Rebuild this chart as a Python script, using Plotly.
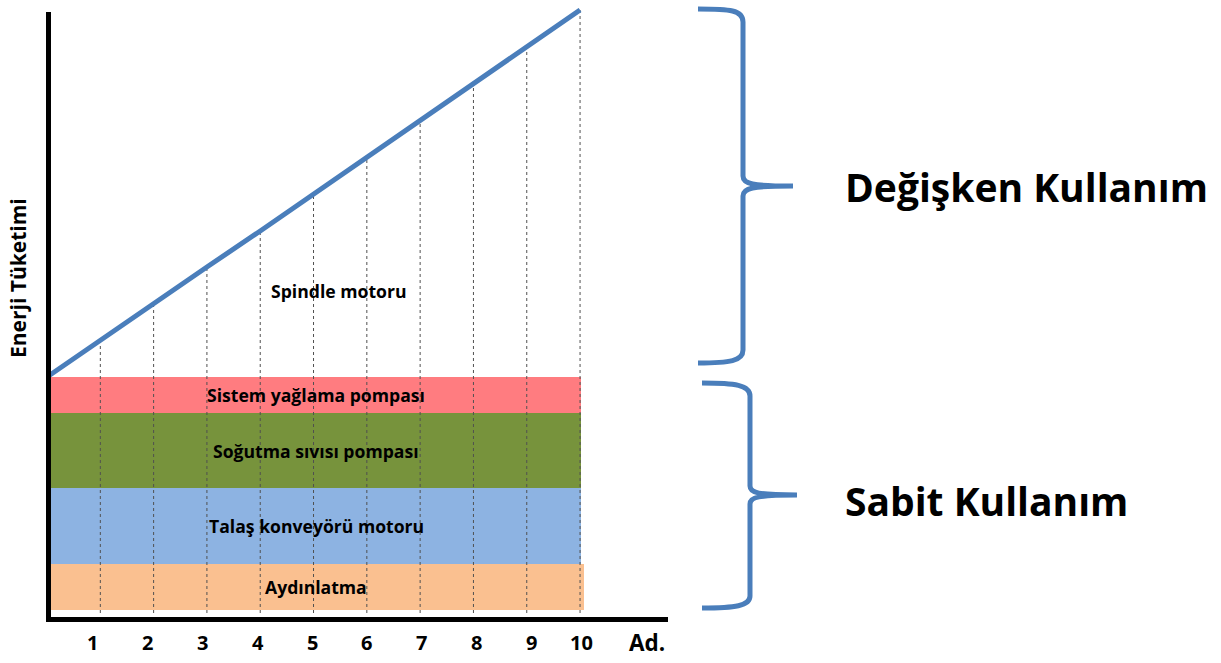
import plotly.graph_objects as go

W, H = 1221, 663

# ---------------- data ----------------
adet = [1, 2, 3, 4, 5, 6, 7, 8, 9, 10]
tick_labels = ["1", "2", "3", "4", "5", "6", "7", "8", "9", "10"]
unit_label = "Ad."

# fixed consumers (bottom -> top)
fixed_names = ["Aydınlatma", "Talaş konveyörü motoru", "Soğutma sıvısı pompası", "Sistem yağlama pompası"]
fixed_values = [4.6, 7.6, 7.5, 3.6]
fixed_colors = ["#FAC090", "#8DB3E2", "#77933C", "#FF7C80"]
base_gap = 0.7

# variable consumption (spindle) at 0..10 adet
spindle_x = [0, 1, 2, 3, 4, 5, 6, 7, 8, 9, 10]
spindle_values = [0, 3.7, 7.3, 11.0, 14.6, 18.3, 22.0, 25.6, 29.3, 33.0, 36.7]
spindle_name = "Spindle motoru"

y_title = "Enerji Tüketimi"
brace_labels = ["Değişken Kullanım", "Sabit Kullanım"]

# ---------------- helpers ----------------
def px(x):
    return x / W

def py(y):
    return 1 - y / H

FONT = "Open Sans"
BLACK = "#000000"
BLUE = "#4A7EBB"

fig = go.Figure()

# fixed bands as bars spanning the whole x extent
bottom = base_gap
fixed_total = base_gap + sum(fixed_values)
band_centers = []
for i, (name, val, col) in enumerate(zip(fixed_names, fixed_values, fixed_colors)):
    x0, x1 = (-0.02, 10.07) if i == 0 else (0.0, 10.02)
    fig.add_trace(go.Bar(
        x=[(x0 + x1) / 2], y=[val], base=[bottom], width=[x1 - x0],
        marker=dict(color=col, line=dict(width=0)), name=name,
        hoverinfo="skip", showlegend=False,
    ))
    band_centers.append(bottom + val / 2)
    bottom += val

total = [fixed_total + v for v in spindle_values]

# dashed vertical guide lines
dx, dy = [], []
for a in adet:
    dx += [a, a, None]
    dy += [0.4, total[spindle_x.index(a)], None]
fig.add_trace(go.Scatter(x=dx, y=dy, mode="lines",
                         line=dict(color="#505050", width=1, dash="dot"),
                         hoverinfo="skip", showlegend=False))

# spindle / total line
fig.add_trace(go.Scatter(x=spindle_x, y=total, mode="lines",
                         line=dict(color=BLUE, width=5),
                         hoverinfo="skip", showlegend=False, name=spindle_name))

annotations = []
# band labels
for name, yc in zip(fixed_names, band_centers):
    annotations.append(dict(x=5.05, y=yc, xref="x", yref="y", text="<b>%s</b>" % name,
                            yanchor="middle", showarrow=False,
                            font=dict(family=FONT, size=17.6, color=BLACK)))
annotations.append(dict(x=5.46, y=32.6, xref="x", yref="y", text="<b>%s</b>" % spindle_name,
                        yanchor="middle", showarrow=False,
                        font=dict(family=FONT, size=17.6, color=BLACK)))

# x tick labels
tick_pos = [0.86, 1.89, 2.92, 3.95, 4.98, 6.0, 7.03, 8.06, 9.08, 10.02]
for t, xp in zip(tick_labels, tick_pos):
    annotations.append(dict(x=xp, y=py(642), xref="x", yref="paper", text="<b>%s</b>" % t,
                            yanchor="middle", showarrow=False,
                            font=dict(family=FONT, size=20, color=BLACK)))
annotations.append(dict(x=11.26, y=py(642), xref="x", yref="paper", text="<b>%s</b>" % unit_label,
                        yanchor="middle", showarrow=False,
                        font=dict(family=FONT, size=22.5, color=BLACK)))

# y title
annotations.append(dict(x=px(18), y=py(278), xref="paper", yref="paper", text="<b>%s</b>" % y_title,
                        xanchor="center", yanchor="middle",
                        textangle=-90, showarrow=False, font=dict(family=FONT, size=21, color=BLACK)))

# brace labels
annotations.append(dict(x=px(843), y=py(186), xref="paper", yref="paper", xanchor="left",
                        yanchor="middle", text="<b>%s</b>" % brace_labels[0], showarrow=False,
                        font=dict(family=FONT, size=39, color=BLACK)))
annotations.append(dict(x=px(843), y=py(500), xref="paper", yref="paper", xanchor="left",
                        yanchor="middle", text="<b>%s</b>" % brace_labels[1], showarrow=False,
                        font=dict(family=FONT, size=39, color=BLACK)))

def path_px(cmds):
    out = []
    for c in cmds:
        if isinstance(c, str):
            out.append(c)
        else:
            out.append("%.5f,%.5f" % (px(c[0]), py(c[1])))
    return " ".join(out)

brace1 = path_px(["M", (698, 9), "C", (730, 9), (743, 10), (743, 22),
                  "L", (743, 176), "C", (743, 184), (752, 186), (793, 186),
                  "C", (752, 186), (743, 188), (743, 196),
                  "L", (743, 350), "C", (743, 361), (730, 363), (698, 363)])
brace2 = path_px(["M", (702, 383), "C", (735, 383), (750, 385), (750, 396),
                  "L", (750, 486), "C", (750, 493), (758, 495), (797, 495),
                  "C", (758, 495), (750, 497), (750, 504),
                  "L", (750, 596), "C", (750, 606), (735, 608), (702, 608)])

shapes = [
    dict(type="path", path=brace1, xref="paper", yref="paper", line=dict(color=BLUE, width=5), layer="above"),
    dict(type="path", path=brace2, xref="paper", yref="paper", line=dict(color=BLUE, width=5), layer="above"),
    # axes lines
    dict(type="line", x0=px(48.5), x1=px(48.5), y0=py(12), y1=py(622), xref="paper", yref="paper",
         line=dict(color=BLACK, width=5), layer="above"),
    dict(type="line", x0=px(46), x1=px(668), y0=py(619.5), y1=py(619.5), xref="paper", yref="paper",
         line=dict(color=BLACK, width=5), layer="above"),
]

fig.update_layout(
    width=W, height=H,
    margin=dict(l=0, r=0, t=0, b=0),
    paper_bgcolor="white", plot_bgcolor="white",
    barmode="overlay", bargap=0,
    showlegend=False,
    xaxis=dict(domain=[px(46), px(668)], range=[-0.019, 11.65], visible=False, fixedrange=True),
    yaxis=dict(domain=[py(622), py(8)], range=[-0.5, 60.9], visible=False, fixedrange=True),
    annotations=annotations, shapes=shapes,
)

fig.write_html("out.html", config={"displayModeBar": False},
               post_script="document.body.style.margin='0';document.body.style.overflow='hidden';")
